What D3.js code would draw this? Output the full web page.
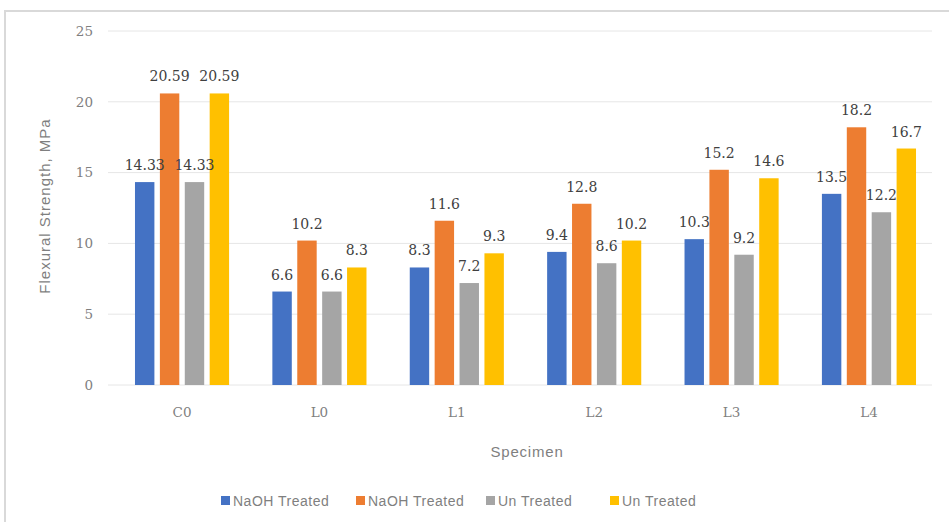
<!DOCTYPE html>
<html>
<head>
<meta charset="utf-8">
<script src="https://cdn.jsdelivr.net/npm/d3@7"></script>
<style>
  body { margin: 0; background: #fff; }
</style>
</head>
<body>
<script>
// chart data
var categories = ["C0", "L0", "L1", "L2", "L3", "L4"];
var seriesNames = ["NaOH Treated", "NaOH Treated", "Un Treated", "Un Treated"];
var seriesColors = ["#4472C4", "#ED7D31", "#A5A5A5", "#FFC000"];
var naohA = [14.33, 6.6, 8.3, 9.4, 10.3, 13.5];
var naohB = [20.59, 10.2, 11.6, 12.8, 15.2, 18.2];
var untreatedA = [14.33, 6.6, 7.2, 8.6, 9.2, 12.2];
var untreatedB = [20.59, 8.3, 9.3, 10.2, 14.6, 16.7];
var yTicks = [0, 5, 10, 15, 20, 25];

var w = 949, h = 522;
var series = [naohA, naohB, untreatedA, untreatedB];

var svg = d3.select("body").append("svg")
    .attr("width", w)
    .attr("height", h);

// chart area border (top and left edges only are visible)
svg.append("line")
    .attr("x1", 5).attr("x2", w).attr("y1", 11).attr("y2", 11)
    .style("stroke", "#d9d9d9").style("stroke-width", 2);
svg.append("line")
    .attr("x1", 5).attr("x2", 5).attr("y1", 10).attr("y2", h)
    .style("stroke", "#d9d9d9").style("stroke-width", 2);

var x0 = d3.scaleBand()
    .domain(categories)
    .range([113, 938])
    .paddingInner(0.315)
    .paddingOuter(0.16);

var x1 = d3.scaleBand()
    .domain(d3.range(series.length))
    .range([0, x0.bandwidth()])
    .paddingInner(0.22);

var y = d3.scaleLinear()
    .domain([0, 25])
    .range([385, 31]);

// gridlines
svg.selectAll(".grid")
    .data(yTicks)
    .enter()
    .append("line")
    .attr("class", "grid")
    .attr("x1", 108).attr("x2", 932)
    .attr("y1", function(d){ return y(d); })
    .attr("y2", function(d){ return y(d); })
    .style("stroke", "#e6e6e6")
    .style("stroke-width", 1);

// y axis labels
var yAxis = d3.axisLeft(y).tickValues(yTicks).tickSize(0).tickPadding(0);
var yg = svg.append("g")
    .attr("transform", "translate(93,0)")
    .call(yAxis);
yg.select(".domain").remove();
yg.selectAll("text")
    .style("font-family", "DejaVu Serif")
    .style("font-size", "13.5px")
    .style("fill", "#7f7f7f");

// x axis labels
var xAxis = d3.axisBottom(x0).tickSize(0).tickPadding(0);
var xg = svg.append("g")
    .attr("transform", "translate(0,407)")
    .call(xAxis);
xg.select(".domain").remove();
xg.selectAll("text")
    .style("font-family", "DejaVu Serif")
    .style("font-size", "13.5px")
    .style("fill", "#7f7f7f");

// bars
var groups = svg.selectAll(".group")
    .data(categories)
    .enter()
    .append("g")
    .attr("class", "group")
    .attr("transform", function(d){ return "translate(" + x0(d) + ",0)"; });

groups.selectAll(".bar")
    .data(function(d, i){
        return series.map(function(s, j){ return {k: j, v: s[i]}; });
    })
    .enter()
    .append("rect")
    .attr("class", "bar")
    .attr("x", function(d){ return x1(d.k); })
    .attr("width", x1.bandwidth())
    .attr("y", function(d){ return y(d.v); })
    .attr("height", function(d){ return y(0) - y(d.v); })
    .style("fill", function(d){ return seriesColors[d.k]; });

// value labels
groups.selectAll(".value")
    .data(function(d, i){
        return series.map(function(s, j){ return {k: j, v: s[i]}; });
    })
    .enter()
    .append("text")
    .attr("class", "value")
    .attr("text-anchor", "middle")
    .attr("x", function(d){ return x1(d.k) + x1.bandwidth() / 2; })
    .attr("y", function(d){ return y(d.v) - 12; })
    .text(function(d){ return d.v; })
    .style("font-family", "DejaVu Serif")
    .style("font-size", "14px")
    .style("fill", "#404040");

// axis titles
svg.append("text")
    .attr("transform", "translate(50,206) rotate(-90)")
    .attr("text-anchor", "middle")
    .text("Flexural Strength, MPa")
    .style("font-family", "Liberation Sans")
    .style("font-size", "15px")
    .style("letter-spacing", "1px")
    .style("fill", "#7f7f7f");

svg.append("text")
    .attr("x", 527)
    .attr("y", 457)
    .attr("text-anchor", "middle")
    .text("Specimen")
    .style("font-family", "Liberation Sans")
    .style("font-size", "15px")
    .style("letter-spacing", "0.8px")
    .style("fill", "#7f7f7f");

// legend
var legendX = [221, 356, 486, 610];
var legend = svg.selectAll(".legend")
    .data(seriesNames)
    .enter()
    .append("g")
    .attr("class", "legend")
    .attr("transform", function(d, i){ return "translate(" + legendX[i] + ",501)"; });

legend.append("rect")
    .attr("x", 0).attr("y", -5)
    .attr("width", 9).attr("height", 9)
    .style("fill", function(d, i){ return seriesColors[i]; });

legend.append("text")
    .attr("x", 12)
    .attr("y", 5)
    .text(function(d){ return d; })
    .style("font-family", "Liberation Sans")
    .style("font-size", "14px")
    .style("letter-spacing", "0.5px")
    .style("fill", "#7f7f7f");
</script>
</body>
</html>
